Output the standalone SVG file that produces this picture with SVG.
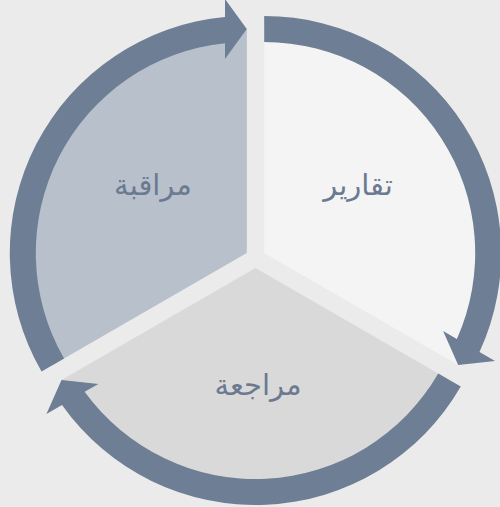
<svg xmlns="http://www.w3.org/2000/svg" xmlns:xlink="http://www.w3.org/1999/xlink" width="500" height="507" viewBox="0 0 500 507">
  <style>
    .lbl { font-family: "DejaVu Sans", "Noto Sans", sans-serif; font-size: 29px; fill: #6b7a90; text-anchor: middle; }
    .arrow { fill: #6e7e95; }
  </style>
  <defs>
    <path id="arc-arrow" d="M -205.25 118.5 A 237 237 0 0 1 -21.8 -236 L -21.8 -254 L 0 -224 L -21.8 -194 L -21.8 -209.87 A 211 211 0 0 0 -182.73 105.5 Z"/>
  </defs>
  <rect x="0" y="0" width="500" height="507" fill="#ebebeb"/>
  <g id="node-muraqaba">
    <path transform="translate(246.8 253)" d="M 0 0 L 0 -224 A 224 224 0 0 0 -193.99 112 Z" fill="#b8c0cc"/>
    <text class="lbl" x="153" y="195">مراقبة</text>
  </g>
  <g id="node-taqarir">
    <path transform="translate(264.2 253)" d="M 0 0 L 193.99 112 A 224 224 0 0 0 0 -224 Z" fill="#f4f4f4"/>
    <text class="lbl" x="358" y="195">تقارير</text>
  </g>
  <g id="node-murajaa">
    <path transform="translate(255.5 268)" d="M 0 0 L -193.99 112 A 224 224 0 0 0 193.99 112 Z" fill="#d9d9d9"/>
    <text class="lbl" x="258" y="395">مراجعة</text>
  </g>
  <g id="connectors">
    <use xlink:href="#arc-arrow" class="arrow" transform="translate(246.8 253)"/>
    <use xlink:href="#arc-arrow" class="arrow" transform="translate(264.2 253) rotate(120)"/>
    <use xlink:href="#arc-arrow" class="arrow" transform="translate(255.5 268) rotate(240)"/>
  </g>
</svg>
